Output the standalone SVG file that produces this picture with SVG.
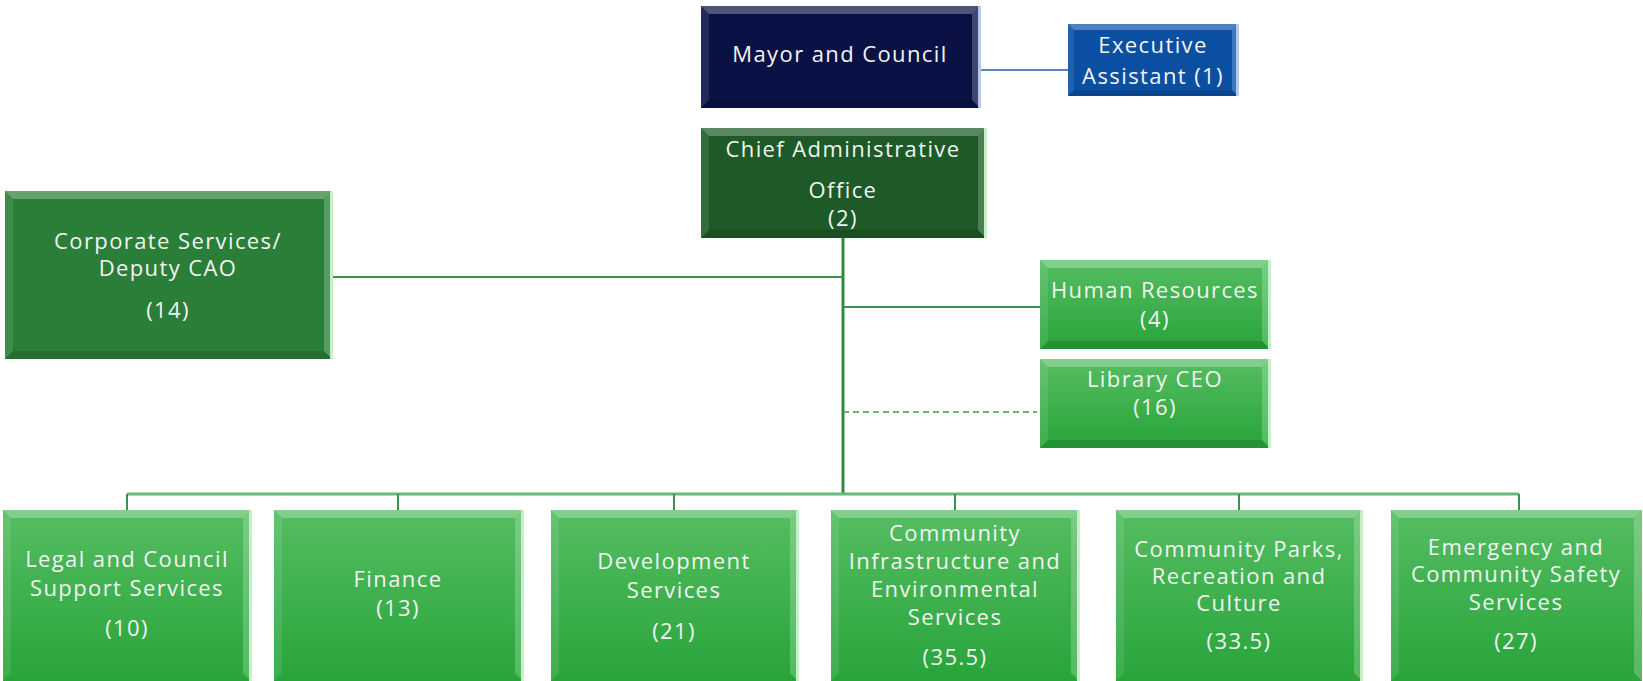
<svg xmlns="http://www.w3.org/2000/svg" width="1643" height="681" viewBox="0 0 1643 681">
<defs>
<linearGradient id="gBright" x1="0" y1="0" x2="0" y2="1">
<stop offset="0" stop-color="#55bd62"/>
<stop offset="1" stop-color="#28a43a"/>
</linearGradient>
</defs>
<style>
.t{font-family:"Open Sans","Liberation Sans",sans-serif;font-size:22px;letter-spacing:1.4px;fill:#f2f4f2;text-anchor:middle}
.bt{fill:#ffffff;opacity:0.28}
.br{fill:#ffffff;opacity:0.22}
.bl{fill:#ffffff;opacity:0.1}
.bb{fill:#000000;opacity:0.12}
.navy{fill:#0a1245}
.blue{fill:#0b4fa3}
.dkg{fill:#1d5a27}
.mdg{fill:#2a7e38}
.brg{fill:url(#gBright)}
.edgeG{fill:#c6f0c6}
.edgeB{fill:#b4c8ef}
.ln{stroke:#3a944a;stroke-width:2;fill:none}
</style>
<g id="connectors">
<line x1="980" y1="70" x2="1068" y2="70" stroke="#1f5fa8" stroke-width="1.6"/>
<line x1="843" y1="238" x2="843" y2="494" stroke="#2e8a3c" stroke-width="3"/>
<line class="ln" x1="332" y1="277" x2="843" y2="277"/>
<line class="ln" x1="843" y1="307" x2="1040" y2="307"/>
<line x1="843" y1="412" x2="1037" y2="412" stroke="#3aa04a" stroke-width="1.6" stroke-dasharray="6,4"/>
<line x1="127" y1="494" x2="1519" y2="494" stroke="#6cb878" stroke-width="3"/>
<line class="ln" x1="127" y1="494" x2="127" y2="510"/>
<line class="ln" x1="398" y1="494" x2="398" y2="510"/>
<line class="ln" x1="674" y1="494" x2="674" y2="510"/>
<line class="ln" x1="955" y1="494" x2="955" y2="510"/>
<line class="ln" x1="1239" y1="494" x2="1239" y2="510"/>
<line class="ln" x1="1519" y1="494" x2="1519" y2="510"/>
</g>
<g id="mayor">
<rect class="navy" x="701" y="6" width="279" height="102"/>
<polygon class="bt" points="701,6 980,6 972,14 709,14"/>
<polygon class="br" points="980,6 980,108 972,100 972,14"/>
<polygon class="bl" points="701,6 709,14 709,100 701,108"/>
<polygon class="bb" points="701,108 709,100 972,100 980,108"/>
<rect class="edgeB" x="978" y="6" width="3" height="102"/>
<text class="t" x="840" y="62">Mayor and Council</text>
</g>
<g id="exec">
<rect class="blue" x="1068" y="24" width="170" height="72"/>
<polygon class="bt" points="1068,24 1238,24 1232,30 1074,30"/>
<polygon class="br" points="1238,24 1238,96 1232,90 1232,30"/>
<polygon class="bl" points="1068,24 1074,30 1074,90 1068,96"/>
<polygon class="bb" points="1068,96 1074,90 1232,90 1238,96"/>
<rect class="edgeB" x="1236" y="24" width="3" height="72"/>
<text class="t" x="1153" y="53">Executive</text>
<text class="t" x="1153" y="84">Assistant (1)</text>
</g>
<g id="cao">
<rect class="dkg" x="701" y="128" width="285" height="110"/>
<polygon class="bt" points="701,128 986,128 978,136 709,136"/>
<polygon class="br" points="986,128 986,238 978,230 978,136"/>
<polygon class="bl" points="701,128 709,136 709,230 701,238"/>
<polygon class="bb" points="701,238 709,230 978,230 986,238"/>
<rect class="edgeG" x="984" y="128" width="3" height="110"/>
<text class="t" x="843" y="157">Chief Administrative</text>
<text class="t" x="843" y="198">Office</text>
<text class="t" x="843" y="226">(2)</text>
</g>
<g id="corporate">
<rect class="mdg" x="5" y="191" width="327" height="168"/>
<polygon class="bt" points="5,191 332,191 324,199 13,199"/>
<polygon class="br" points="332,191 332,359 324,351 324,199"/>
<polygon class="bl" points="5,191 13,199 13,351 5,359"/>
<polygon class="bb" points="5,359 13,351 324,351 332,359"/>
<rect class="edgeG" x="330" y="191" width="3" height="168"/>
<text class="t" x="168" y="249">Corporate Services/</text>
<text class="t" x="168" y="276">Deputy CAO</text>
<text class="t" x="168" y="318">(14)</text>
</g>
<g id="hr">
<rect class="brg" x="1040" y="260" width="230" height="89"/>
<polygon class="bt" points="1040,260 1270,260 1262,268 1048,268"/>
<polygon class="br" points="1270,260 1270,349 1262,341 1262,268"/>
<polygon class="bl" points="1040,260 1048,268 1048,341 1040,349"/>
<polygon class="bb" points="1040,349 1048,341 1262,341 1270,349"/>
<rect class="edgeG" x="1268" y="260" width="3" height="89"/>
<text class="t" x="1155" y="298">Human Resources</text>
<text class="t" x="1155" y="327">(4)</text>
</g>
<g id="library">
<rect class="brg" x="1040" y="359" width="230" height="89"/>
<polygon class="bt" points="1040,359 1270,359 1262,367 1048,367"/>
<polygon class="br" points="1270,359 1270,448 1262,440 1262,367"/>
<polygon class="bl" points="1040,359 1048,367 1048,440 1040,448"/>
<polygon class="bb" points="1040,448 1048,440 1262,440 1270,448"/>
<rect class="edgeG" x="1268" y="359" width="3" height="89"/>
<text class="t" x="1155" y="387">Library CEO</text>
<text class="t" x="1155" y="415">(16)</text>
</g>
<g id="legal">
<rect class="brg" x="3" y="510" width="248" height="171"/>
<polygon class="bt" points="3,510 251,510 243,518 11,518"/>
<polygon class="br" points="251,510 251,681 243,673 243,518"/>
<polygon class="bl" points="3,510 11,518 11,673 3,681"/>
<rect class="edgeG" x="249" y="510" width="3" height="171"/>
<text class="t" x="127" y="567">Legal and Council</text>
<text class="t" x="127" y="596">Support Services</text>
<text class="t" x="127" y="636">(10)</text>
</g>
<g id="finance">
<rect class="brg" x="274" y="510" width="249" height="171"/>
<polygon class="bt" points="274,510 523,510 515,518 282,518"/>
<polygon class="br" points="523,510 523,681 515,673 515,518"/>
<polygon class="bl" points="274,510 282,518 282,673 274,681"/>
<rect class="edgeG" x="521" y="510" width="3" height="171"/>
<text class="t" x="398" y="587">Finance</text>
<text class="t" x="398" y="616">(13)</text>
</g>
<g id="development">
<rect class="brg" x="551" y="510" width="247" height="171"/>
<polygon class="bt" points="551,510 798,510 790,518 559,518"/>
<polygon class="br" points="798,510 798,681 790,673 790,518"/>
<polygon class="bl" points="551,510 559,518 559,673 551,681"/>
<rect class="edgeG" x="796" y="510" width="3" height="171"/>
<text class="t" x="674" y="569">Development</text>
<text class="t" x="674" y="598">Services</text>
<text class="t" x="674" y="639">(21)</text>
</g>
<g id="infrastructure">
<rect class="brg" x="831" y="510" width="248" height="171"/>
<polygon class="bt" points="831,510 1079,510 1071,518 839,518"/>
<polygon class="br" points="1079,510 1079,681 1071,673 1071,518"/>
<polygon class="bl" points="831,510 839,518 839,673 831,681"/>
<rect class="edgeG" x="1077" y="510" width="3" height="171"/>
<text class="t" x="955" y="541">Community</text>
<text class="t" x="955" y="569">Infrastructure and</text>
<text class="t" x="955" y="597">Environmental</text>
<text class="t" x="955" y="625">Services</text>
<text class="t" x="955" y="665">(35.5)</text>
</g>
<g id="parks">
<rect class="brg" x="1116" y="510" width="246" height="171"/>
<polygon class="bt" points="1116,510 1362,510 1354,518 1124,518"/>
<polygon class="br" points="1362,510 1362,681 1354,673 1354,518"/>
<polygon class="bl" points="1116,510 1124,518 1124,673 1116,681"/>
<rect class="edgeG" x="1360" y="510" width="3" height="171"/>
<text class="t" x="1239" y="557">Community Parks,</text>
<text class="t" x="1239" y="584">Recreation and</text>
<text class="t" x="1239" y="611">Culture</text>
<text class="t" x="1239" y="649">(33.5)</text>
</g>
<g id="emergency">
<rect class="brg" x="1391" y="510" width="251" height="171"/>
<polygon class="bt" points="1391,510 1642,510 1634,518 1399,518"/>
<polygon class="br" points="1642,510 1642,681 1634,673 1634,518"/>
<polygon class="bl" points="1391,510 1399,518 1399,673 1391,681"/>
<text class="t" x="1516" y="555">Emergency and</text>
<text class="t" x="1516" y="582">Community Safety</text>
<text class="t" x="1516" y="610">Services</text>
<text class="t" x="1516" y="649">(27)</text>
</g>
</svg>
